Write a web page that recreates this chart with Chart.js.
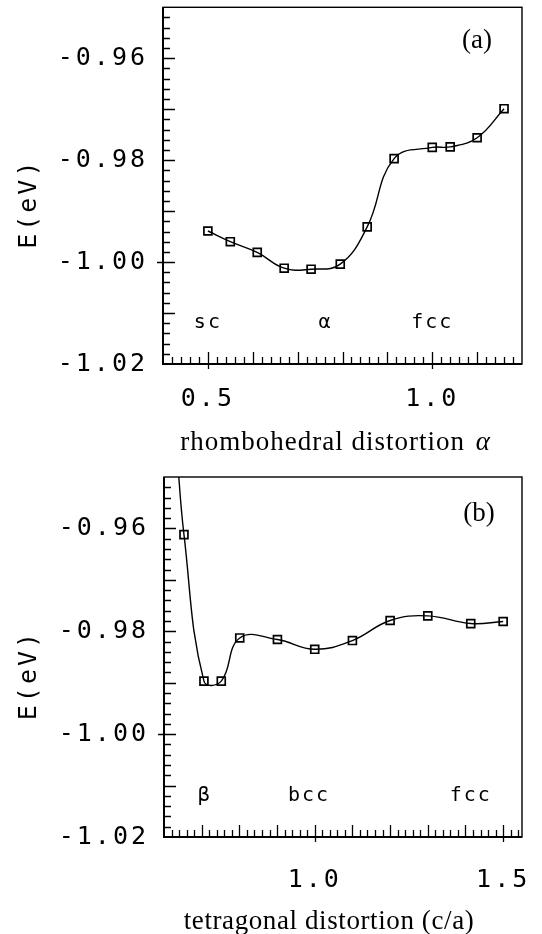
<!DOCTYPE html>
<html>
<head>
<meta charset="utf-8">
<script src="https://cdn.jsdelivr.net/npm/chart.js@4.4.1/dist/chart.umd.min.js"></script>
<style>
  html, body { margin: 0; padding: 0; background: #fff; }
  canvas { display: block; }
</style>
</head>
<body>
<canvas id="rhombo" width="542" height="467"></canvas>
<canvas id="tetra" width="542" height="467"></canvas>
<script>
// (a) energy vs rhombohedral distortion
const rhomboAlpha = [0.5, 0.55, 0.61, 0.67, 0.73, 0.795, 0.855, 0.915, 1.0, 1.04, 1.1, 1.16];
const rhomboE = [-0.9939, -0.9960, -0.9981, -1.0012, -1.0014, -1.0004, -0.9931, -0.9797, -0.9775, -0.9774, -0.9756, -0.9699];

// (b) energy vs tetragonal distortion (c/a)
const tetraCa = [0.653, 0.706, 0.752, 0.801, 0.901, 1.0, 1.1, 1.2, 1.3, 1.414, 1.5];
const tetraE = [-0.9612, -0.9897, -0.9897, -0.9813, -0.9816, -0.9835, -0.9818, -0.9779, -0.9770, -0.9785, -0.9781];
// fitted curve leaves the frame through the top, left of the first point
const tetraCurveStart = { x: 0.634, y: -0.945 };

// tick labels
const eTicks = [-0.96, -0.98, -1.00, -1.02];
const rhomboXTicks = [0.5, 1.0];
const tetraXTicks = [1.0, 1.5];

// structure labels inside the frames
const rhomboTags = ['sc', 'α', 'fcc'];
const rhomboTagX = [0.5, 0.762, 1.0];
const tetraTags = ['β', 'bcc', 'fcc'];
const tetraTagX = [0.708, 0.985, 1.414];
const tagE = -1.012;

const mono = { family: 'DejaVu Sans Mono', size: 25 };
const serif = 'Liberation Serif';

function panelPlugin(p) {
  return {
    id: 'panel',
    beforeDraw(chart) {
      // plotter-style wide lettering for ticks and E(eV)
      chart.ctx.letterSpacing = '3px';
    },
    afterDraw(chart) {
      const ctx = chart.ctx;
      const a = chart.chartArea;
      const xs = chart.scales.x;
      const ys = chart.scales.y;
      ctx.save();
      ctx.strokeStyle = '#000';
      ctx.lineWidth = 1.4;
      ctx.strokeRect(a.left, a.top, a.right - a.left, a.bottom - a.top);
      ctx.lineWidth = 2;
      ctx.beginPath();
      ctx.moveTo(a.left, a.top);
      ctx.lineTo(a.left, a.bottom);
      ctx.lineTo(a.right, a.bottom);
      ctx.stroke();

      // inward ticks
      ctx.lineWidth = 1.3;
      ctx.beginPath();
      const nx = Math.floor((xs.max - xs.min) / 0.02 + 1e-6);
      for (let i = 1; i <= nx; i++) {
        const v = xs.min + i * 0.02;
        const px = Math.round(xs.getPixelForValue(v)) + 0.5;
        if (px >= a.right - 2) continue;
        const lab = p.xTicks.some(l => Math.abs(l - v) < 1e-6);
        const mid = Math.abs(v * 10 - Math.round(v * 10)) < 1e-6;
        ctx.moveTo(px, a.bottom + (lab ? 5 : 0));
        ctx.lineTo(px, a.bottom - (lab || mid ? 12 : 7));
      }
      const ny = Math.round((ys.max - ys.min) / 0.002);
      for (let i = 1; i < ny; i++) {
        const v = ys.min + i * 0.002;
        const py = Math.round(ys.getPixelForValue(v)) + 0.5;
        const mid = Math.abs(v * 100 - Math.round(v * 100)) < 1e-6;
        const cross = Math.abs(v + 1.0) < 1e-6;
        ctx.moveTo(a.left - (cross ? 6 : 0), py);
        ctx.lineTo(a.left + (mid ? 12 : 7), py);
      }
      ctx.stroke();

      // structure labels
      ctx.fillStyle = '#000';
      ctx.letterSpacing = '2px';
      ctx.font = '20px "DejaVu Sans Mono"';
      ctx.textAlign = 'center';
      ctx.textBaseline = 'middle';
      p.tags.forEach((t, i) => {
        ctx.fillText(t, xs.getPixelForValue(p.tagX[i]), ys.getPixelForValue(tagE));
      });

      // panel letter
      ctx.letterSpacing = '0px';
      ctx.textBaseline = 'alphabetic';
      ctx.font = '27px "' + serif + '"';
      ctx.fillText(p.letter, p.letterPos[0], p.letterPos[1]);

      // x axis title
      ctx.letterSpacing = p.titleSpacing;
      ctx.textAlign = 'left';
      const wMain = ctx.measureText(p.xTitle).width;
      ctx.font = 'italic 27px "' + serif + '"';
      const wIt = p.xTitleIt ? ctx.measureText(p.xTitleIt).width : 0;
      const x0 = p.xTitlePos[0] - (wMain + wIt) / 2;
      ctx.font = '27px "' + serif + '"';
      ctx.fillText(p.xTitle, x0, p.xTitlePos[1]);
      if (p.xTitleIt) {
        ctx.font = 'italic 27px "' + serif + '"';
        ctx.fillText(p.xTitleIt, x0 + wMain + 3, p.xTitlePos[1]);
      }
      ctx.restore();
      ctx.letterSpacing = '0px';
    }
  };
}

function makePanel(id, p) {
  const data = p.xs.map((x, i) => ({ x: x, y: p.ys[i] }));
  const radii = data.map(() => 5.6);
  if (p.curveStart) {
    data.unshift(p.curveStart);
    radii.unshift(0);
  }
  return new Chart(document.getElementById(id), {
    type: 'line',
    data: {
      datasets: [{
        data: data,
        borderColor: '#000',
        borderWidth: 1.4,
        tension: 0.42,
        fill: false,
        pointStyle: 'rect',
        pointRadius: radii,
        pointBorderWidth: 1.7,
        pointBorderColor: '#000',
        pointBackgroundColor: 'rgba(0,0,0,0)'
      }]
    },
    options: {
      responsive: false,
      animation: false,
      devicePixelRatio: 1,
      layout: { padding: { top: p.top, right: 20, left: 0, bottom: 0 } },
      plugins: { legend: { display: false }, tooltip: { enabled: false } },
      scales: {
        x: {
          type: 'linear',
          min: p.xMin,
          max: p.xMax,
          grid: { display: false, drawTicks: false },
          border: { display: false },
          afterBuildTicks: s => { s.ticks = p.xTicks.map(v => ({ value: v })); },
          afterFit: s => {
            s.height = p.xHeight;
            s.paddingLeft = 0; s.paddingRight = 0;
          },
          ticks: {
            font: mono, color: '#000', padding: p.xPad,
            maxRotation: 0, autoSkip: false,
            callback: v => v.toFixed(1)
          }
        },
        y: {
          type: 'linear',
          min: -1.02,
          max: -0.95,
          grid: { display: false, drawTicks: false },
          border: { display: false },
          afterBuildTicks: s => { s.ticks = eTicks.map(v => ({ value: v })); },
          afterFit: s => {
            s.width = p.left;
            s.paddingTop = 0; s.paddingBottom = 0;
          },
          ticks: {
            font: mono, color: '#000', padding: 15,
            callback: v => v.toFixed(2)
          },
          title: {
            display: true, text: 'E(eV)  ', color: '#000', font: mono,
            padding: { top: 14, bottom: 0 }
          }
        }
      }
    },
    plugins: [panelPlugin(p)]
  });
}

makePanel('rhombo', {
  xs: rhomboAlpha, ys: rhomboE,
  xMin: 0.4, xMax: 1.2, xTicks: rhomboXTicks,
  top: 5, left: 163, xHeight: 103, xPad: 20,
  tags: rhomboTags, tagX: rhomboTagX,
  letter: '(a)', letterPos: [477, 48],
  xTitle: 'rhombohedral distortion ', xTitleIt: 'α', xTitlePos: [334, 450],
  titleSpacing: '1px'
});

makePanel('tetra', {
  xs: tetraCa, ys: tetraE, curveStart: tetraCurveStart,
  xMin: 0.6, xMax: 1.55, xTicks: tetraXTicks,
  top: 10, left: 164, xHeight: 97, xPad: 28,
  tags: tetraTags, tagX: tetraTagX,
  letter: '(b)', letterPos: [479, 54],
  xTitle: 'tetragonal distortion (c/a)', xTitleIt: '', xTitlePos: [329, 462],
  titleSpacing: '0.6px'
});
</script>
</body>
</html>
